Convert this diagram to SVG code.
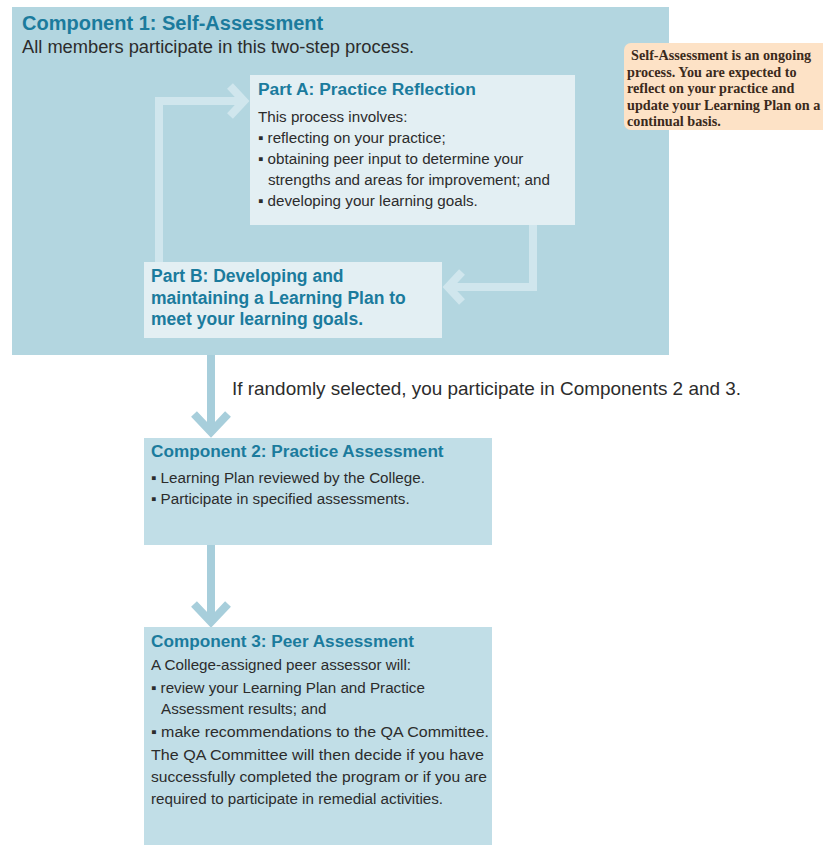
<svg xmlns="http://www.w3.org/2000/svg" width="823" height="845" viewBox="0 0 823 845">
<style>
  .title { font-family: "Liberation Sans", Arial, sans-serif; font-weight: bold; fill: #1b7b9d; }
  .body { font-family: "Liberation Sans", Arial, sans-serif; fill: #2c2c2c; font-size: 15.2px; }
  .note { font-family: "Liberation Serif", "Times New Roman", serif; font-weight: bold; fill: #3b2a1c; font-size: 14.2px; }
  .loop { fill: none; stroke: #d0e6ed; stroke-width: 8; stroke-linejoin: miter; }
  .down { fill: none; stroke: #a7cedb; stroke-width: 8; stroke-linejoin: miter; }
  .inner { fill: #e3eff3; }
  .comp { fill: #c1dee7; }
</style>
<rect width="823" height="845" fill="#ffffff"/>

<g id="component1">
  <rect x="12" y="7" width="657" height="348" fill="#b3d6e0"/>
  <text class="title" x="22" y="30" font-size="20">Component 1: Self-Assessment</text>
  <text class="body" x="22" y="53" style="font-size:18.3px">All members participate in this two-step process.</text>
</g>

<g id="note">
  <rect x="624" y="43" width="210" height="87" rx="7" fill="#fde2c6"/>
  <text class="note" x="631" y="60">Self-Assessment is an ongoing</text>
  <text class="note" x="627" y="76.5">process. You are expected to</text>
  <text class="note" x="627" y="93">reflect on your practice and</text>
  <text class="note" x="627" y="109.5">update your Learning Plan on a</text>
  <text class="note" x="627" y="126">continual basis.</text>
</g>

<g id="connectors">
  <path class="loop" d="M159,262 V101 H240"/>
  <polyline class="loop" points="230,86 244,101 230,116"/>
  <path class="loop" d="M533,225 V287 H452"/>
  <polyline class="loop" points="462,272 448,287 462,302"/>
  <path class="down" d="M211,355 V430"/>
  <polyline class="down" points="194,414 211,432 228,414"/>
  <path class="down" d="M211,535 V620"/>
  <polyline class="down" points="194,604 211,622 228,604"/>
</g>

<g id="partA">
  <rect class="inner" x="250" y="75" width="325" height="150"/>
  <text class="title" x="258" y="95" font-size="17.4">Part A: Practice Reflection</text>
  <text class="body" x="258" y="122">This process involves:</text>
  <text class="body" x="258" y="143">▪ reflecting on your practice;</text>
  <text class="body" x="258" y="164">▪ obtaining peer input to determine your</text>
  <text class="body" x="268" y="185">strengths and areas for improvement; and</text>
  <text class="body" x="258" y="206">▪ developing your learning goals.</text>
</g>

<g id="partB">
  <rect class="inner" x="144" y="262" width="298" height="76"/>
  <text class="title" x="151" y="282" font-size="17.5">Part B: Developing and</text>
  <text class="title" x="151" y="303.5" font-size="17.5">maintaining a Learning Plan to</text>
  <text class="title" x="151" y="325" font-size="17.5">meet your learning goals.</text>
</g>

<text class="body" x="232" y="395" style="font-size:18.6px" textLength="509" lengthAdjust="spacingAndGlyphs">If randomly selected, you participate in Components 2 and 3.</text>

<g id="component2">
  <rect class="comp" x="144" y="438" width="348" height="107"/>
  <text class="title" x="151" y="457" font-size="17.2">Component 2: Practice Assessment</text>
  <text class="body" x="151" y="483">▪ Learning Plan reviewed by the College.</text>
  <text class="body" x="151" y="504">▪ Participate in specified assessments.</text>
</g>

<g id="component3">
  <rect class="comp" x="144" y="627" width="348" height="218"/>
  <text class="title" x="151" y="647" font-size="17.2">Component 3: Peer Assessment</text>
  <text class="body" x="151" y="670">A College-assigned peer assessor will:</text>
  <text class="body" x="151" y="693">▪ review your Learning Plan and Practice</text>
  <text class="body" x="161" y="714">Assessment results; and</text>
  <text class="body" x="151" y="737" textLength="338" lengthAdjust="spacingAndGlyphs">▪ make recommendations to the QA Committee.</text>
  <text class="body" x="151" y="760" textLength="333" lengthAdjust="spacingAndGlyphs">The QA Committee will then decide if you have</text>
  <text class="body" x="151" y="782" textLength="336" lengthAdjust="spacingAndGlyphs">successfully completed the program or if you are</text>
  <text class="body" x="151" y="804">required to participate in remedial activities.</text>
</g>
</svg>
